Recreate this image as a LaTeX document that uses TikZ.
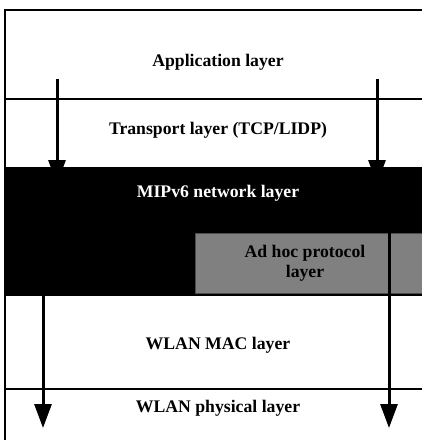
\documentclass[tikz,border=0pt]{standalone}
\usepackage{fontspec}
\setmainfont{Liberation Serif}
\usetikzlibrary{arrows.meta,positioning}

\begin{document}
\begin{tikzpicture}[x=1pt,y=-1pt,>={Triangle[length=24pt,width=17pt]},
  font=\fontsize{17.7}{20}\selectfont\bfseries,
  sep/.style={line width=2pt},
  flow/.style={->,line width=3pt}]
 \useasboundingbox (0,0) rectangle (422,440);
 \fill[black] (5,168) rectangle (422,295);
 \draw[fill=black!50,draw=black!70,line width=1pt] (195,233) rectangle (422,293);
 \draw[sep] (422,10) -- (5,10) -- (5,440);
 \foreach \y in {99,168,295,389}
    \draw[sep] (5,\y) -- (422,\y);
 \node (app) at (218,62) {Application layer};
 \node (trans) at (218,130) {Transport layer (TCP/LIDP)};
 \node[text=white] (mip) at (218,193) {MIPv6 network layer};
 \node[align=center] (adhoc) at (305,263) {Ad hoc protocol\\layer};
 \node (mac) at (218,345) {WLAN MAC layer};
 \node (phy) at (218,408) {WLAN physical layer};
 \coordinate (ul) at (57,79);
 \coordinate (ur) at (377,79);
 \coordinate (ul') at (57,184);
 \coordinate (ur') at (377,184);
 \coordinate (ll) at (43,295);
 \coordinate (lr) at (389,233);
 \coordinate (ll') at (43,428);
 \coordinate (lr') at (389,428);
 \foreach \a in {ul,ur,ll,lr}
    \draw[flow] (\a) -- (\a');
\end{tikzpicture}
\end{document}
